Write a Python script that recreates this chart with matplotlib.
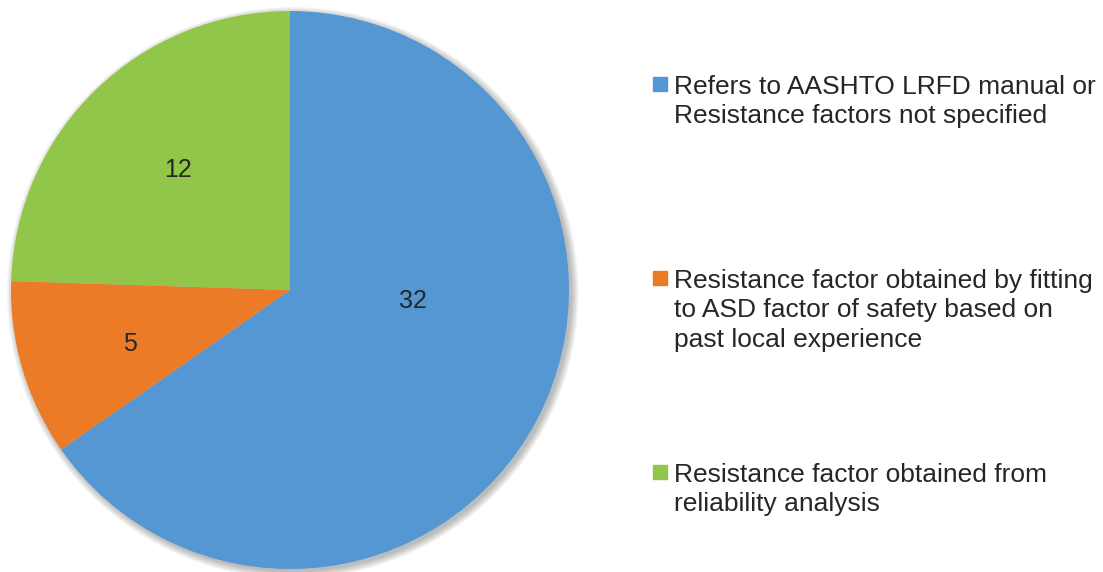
import matplotlib
matplotlib.use("Agg")
import matplotlib.pyplot as plt
from matplotlib.patches import Circle, Rectangle
import numpy as np

# ---- data ----
categories = [
    "Refers to AASHTO LRFD manual or\nResistance factors not specified",
    "Resistance factor obtained by fitting\nto ASD factor of safety based on\npast local experience",
    "Resistance factor obtained from\nreliability analysis",
]
values = [32, 5, 12]
colors = ["#5497D3", "#EC7B28", "#92C64B"]

# ---- layout ----
W, H = 1103, 572
fig = plt.figure(figsize=(W / 100, H / 100), dpi=100)
plt.rcParams['font.family'] = ['Liberation Sans', 'DejaVu Sans']
txt_color = "#262626"

cx, cy, R = 290, 290, 279  # pixel centre / radius
ax = fig.add_axes([(cx - R) / W, (H - cy - R) / H, 2 * R / W, 2 * R / H])

# soft shadow (bottom-right)
for k in range(8):
    c = Circle((0.010, -0.010), 1.0 + k * 0.0035, color="#000000",
               alpha=0.035, lw=0, clip_on=False, zorder=0)
    ax.add_patch(c)

wedges, _ = ax.pie(values, colors=colors, startangle=90, counterclock=False,
                   radius=1.0, wedgeprops=dict(linewidth=0))
for w in wedges:
    w.set_clip_on(False)
    w.set_zorder(2)

ax.set_xlim(-1, 1)
ax.set_ylim(-1, 1)
ax.set_aspect("equal")
ax.axis("off")

# data labels (Excel best-fit placement)
label_pos = [(0.44, -0.04), (-0.575, -0.195), (-0.40, 0.43)]
for v, (lx, ly) in zip(values, label_pos):
    ax.text(lx, ly, str(v), ha="center", va="center", fontsize=18,
            color=txt_color, zorder=5)

# legend
leg_baseline = [94, 288, 482]  # first-line baseline, pixels from top
line_gap = 29.5
for lab, col, yb in zip(categories, colors, leg_baseline):
    fig.patches.append(Rectangle((653 / W, (H - yb + 3) / H), 14 / W, 14 / H,
                                 transform=fig.transFigure, color=col,
                                 figure=fig))
    for i, line in enumerate(lab.split("\n")):
        fig.text(674 / W, (H - yb - i * line_gap) / H, line, ha="left",
                 va="baseline", fontsize=19, color=txt_color)

fig.savefig("out.png", dpi=100, facecolor="white")
